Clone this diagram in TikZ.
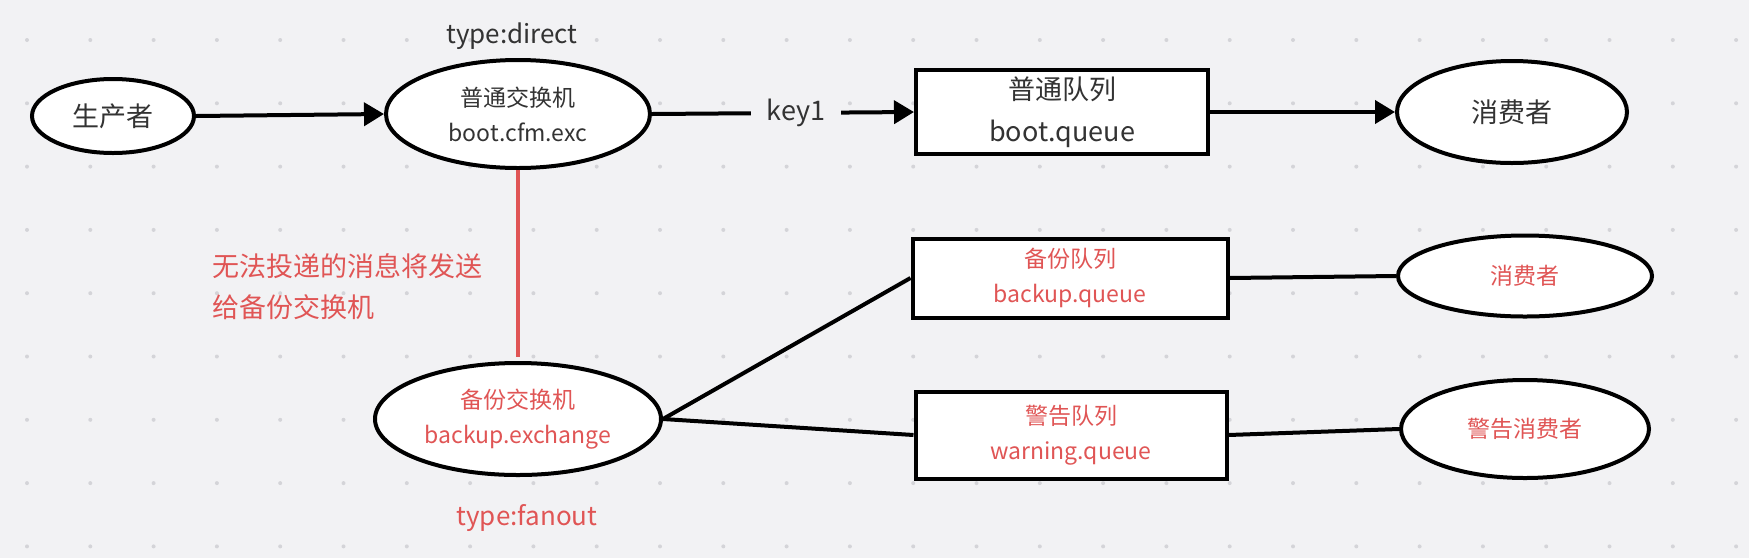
\documentclass[tikz,border=0pt]{standalone}
\usepackage{fontspec}
\setmainfont{Noto Sans CJK SC}
\usetikzlibrary{arrows.meta,shapes.geometric}
\definecolor{canvas}{HTML}{F2F2F4}
\definecolor{griddot}{HTML}{D4D4D8}
\definecolor{inktext}{HTML}{333333}
\definecolor{alertred}{HTML}{E05555}

\begin{document}
\begin{tikzpicture}[x=1pt, y=-1pt,
    actor/.style={ellipse, draw=black, line width=4pt, fill=white, inner sep=0pt, align=center},
    queuebox/.style={rectangle, draw=black, line width=4pt, fill=white, inner sep=0pt, align=center},
    big/.style={font=\fontsize{27}{42}\selectfont},
    small/.style={font=\fontsize{23}{35}\selectfont},
    link/.style={line width=4pt, draw=black},
    flow/.style={link, -{Triangle[length=20pt, width=23pt]}},
    keylabel/.style={fill=canvas, inner xsep=16pt, inner ysep=2pt, text=inktext, font=\fontsize{27}{32}\selectfont}
]

% canvas and dot grid
\useasboundingbox (0,0) rectangle (1749,558);
\fill[canvas] (0,0) rectangle (1749,558);
\foreach \i in {0,...,27}
  \foreach \j in {0,...,8}
    \fill[griddot] ({27+63.3*\i},{40+63.3*\j}) circle (2pt);

% normal route
\node[actor, big, text=inktext, minimum width=162pt, minimum height=74pt] (prod) at (113,116) {生产者};
\node[actor, small, text=inktext, minimum width=264pt, minimum height=108pt] (exch) at (518,114) {普通交换机\\boot.cfm.exc};
\node[queuebox, big, text=inktext, minimum width=292pt, minimum height=84pt] (bootq) at (1062,112) {普通队列\\boot.queue};
\node[actor, big, text=inktext, minimum width=230pt, minimum height=102pt] (cons) at (1512,112) {消费者};
\node[text=inktext, font=\fontsize{26}{30}\selectfont] (direct) at (512,36) {type:direct};

% alternate route
\node[actor, small, text=alertred, minimum width=286pt, minimum height=112pt] (bexch) at (518,419) {备份交换机\\backup.exchange};
\node[queuebox, small, text=alertred, minimum width=315pt, minimum height=79pt] (bq) at (1070,278) {备份队列\\backup.queue};
\node[queuebox, small, text=alertred, minimum width=311pt, minimum height=87pt] (wq) at (1071,435) {警告队列\\warning.queue};
\node[actor, small, text=alertred, minimum width=254pt, minimum height=81pt] (bcons) at (1525,276) {消费者};
\node[actor, small, text=alertred, minimum width=248pt, minimum height=98pt] (wcons) at (1525,429) {警告消费者};
\node[text=alertred, font=\fontsize{26}{30}\selectfont] (fanout) at (527,518) {type:fanout};
\node[anchor=west, align=left, text=alertred, font=\fontsize{27}{41}\selectfont] (note) at (209,287) {无法投递的消息将发送\\给备份交换机};
\coordinate (redend) at (518,357);

\draw[flow] (prod.east) -- (exch.west);
\draw[flow] (exch.east) -- node[keylabel, pos=0.55] (key) {key1} (bootq.west);
\draw[flow] (bootq.east) -- (cons.west);
\draw[alertred, line width=4pt] (exch.south) -- (redend);
\draw[link] (bexch.east) -- (bq.west);
\draw[link] (bexch.east) -- (wq.west);
\draw[link] (bq.east) -- (bcons.west);
\draw[link] (wq.east) -- (wcons.west);

\end{tikzpicture}
\end{document}
